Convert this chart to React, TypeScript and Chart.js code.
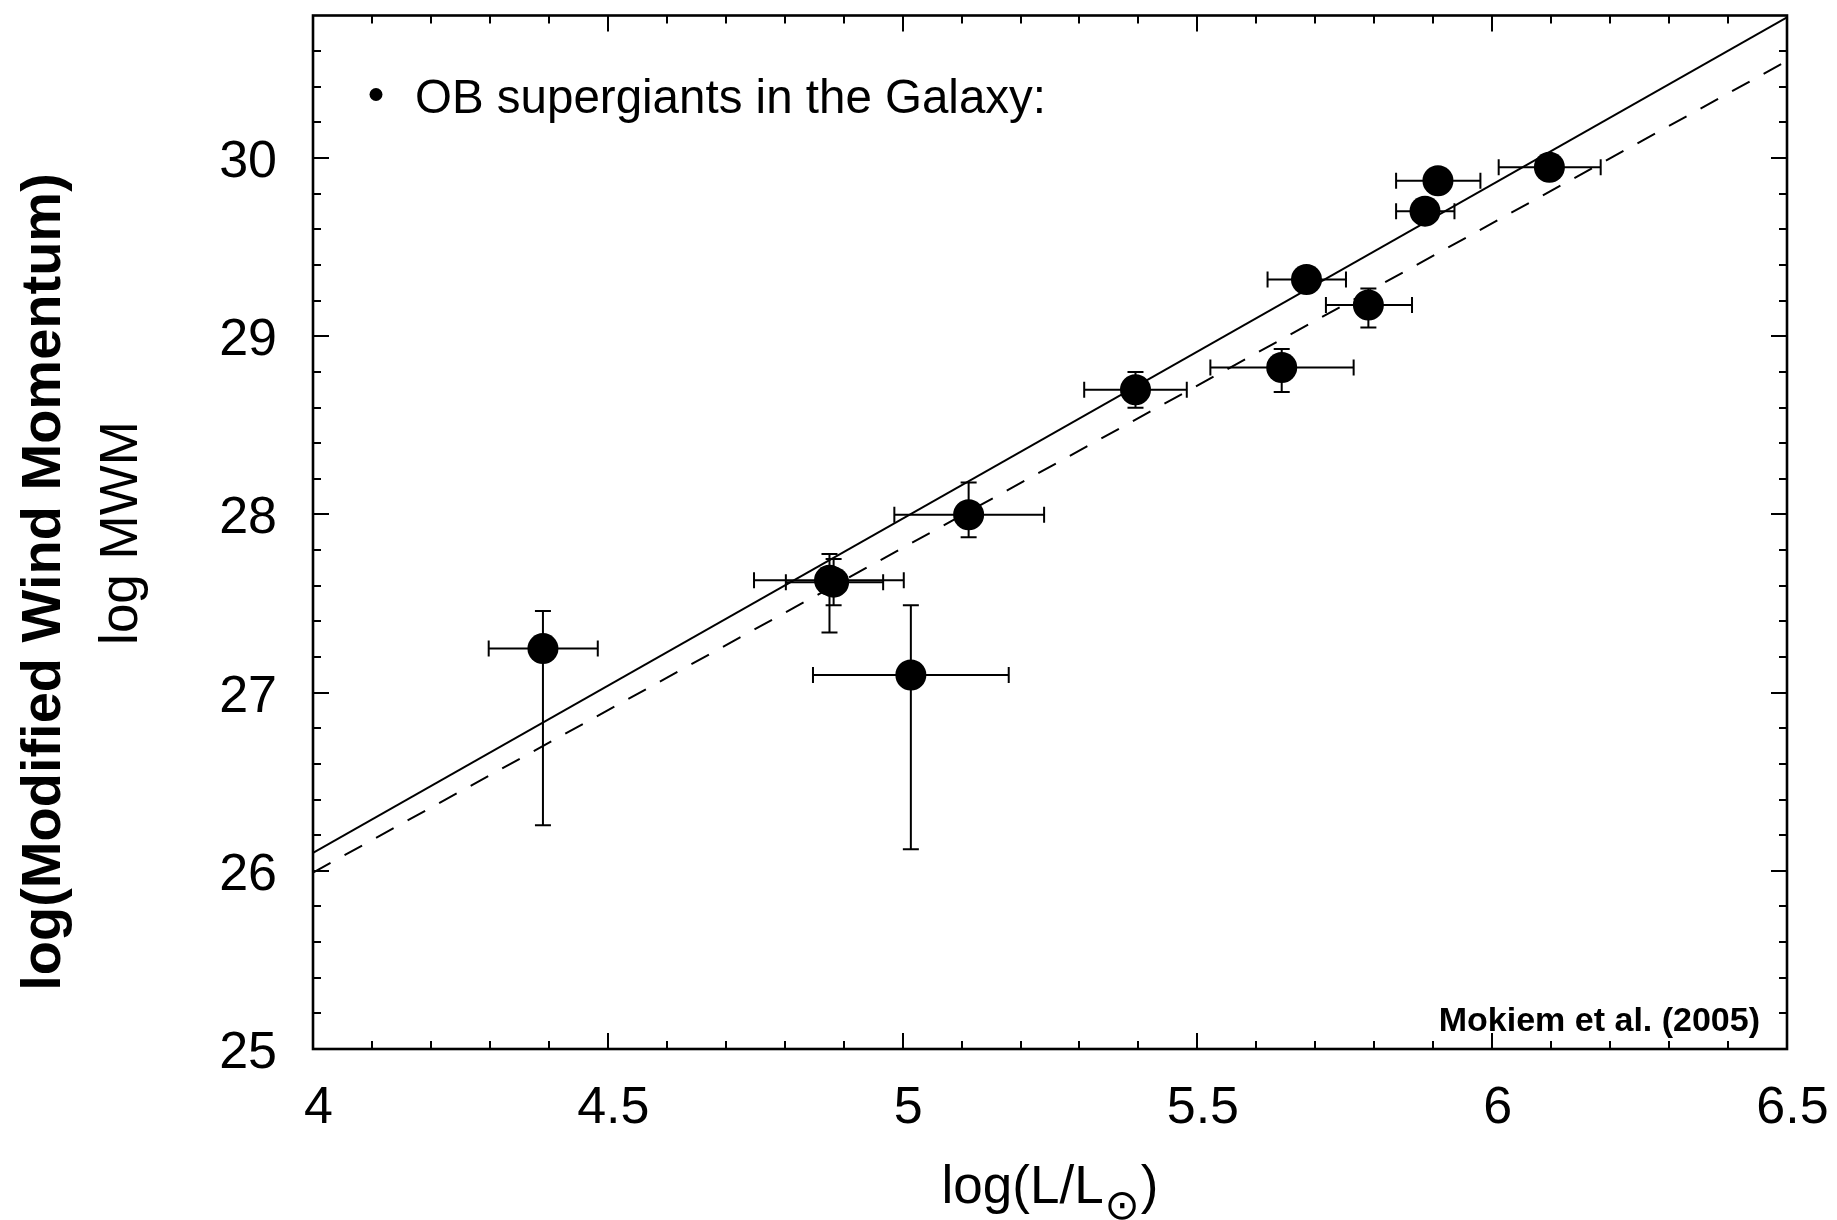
import React, { useEffect, useRef } from 'react';
import { Chart, registerables } from 'chart.js';

Chart.register(...registerables);

// ---- Data ----
const starLogL = [4.39, 4.876, 4.883, 5.014, 5.112, 5.395, 5.643, 5.685, 5.79, 5.886, 5.908, 6.097];
const starLogMWM = [27.247, 27.63, 27.62, 27.099, 27.998, 28.7, 28.825, 29.318, 29.175, 29.702, 29.873, 29.948];
const starLogLLow = [4.298, 4.748, 4.802, 4.848, 4.986, 5.308, 5.522, 5.619, 5.718, 5.837, 5.837, 6.011];
const starLogLHigh = [4.483, 5.002, 4.967, 5.18, 5.24, 5.482, 5.765, 5.752, 5.864, 5.936, 5.98, 6.184];
const starLogMWMLow = [26.255, 27.337, 27.49, 26.121, 27.872, 28.598, 28.687, 29.27, 29.049, 29.66, 29.83, 29.9];
const starLogMWMHigh = [27.458, 27.778, 27.75, 27.49, 28.179, 28.8, 28.929, 29.37, 29.268, 29.74, 29.92, 29.99];

const fitSolidLogL = [4, 6.5];
const fitSolidLogMWM = [26.1, 30.79];
const fitDashedLogL = [4, 6.5];
const fitDashedLogMWM = [25.99, 30.545];

const xTickValues = [4, 4.5, 5, 5.5, 6, 6.5];
const xTickLabels = ['4', '4.5', '5', '5.5', '6', '6.5'];
const yTickValues = [25, 26, 27, 28, 29, 30];
const yTickLabels = ['25', '26', '27', '28', '29', '30'];
const xMinorStep = 0.1;
const yMinorStep = 0.2;

const xMin = 4;
const xMax = 6.5;
const yMin = 25;
const yMax = 30.8;

const legendText = 'OB supergiants in the Galaxy:';
const sourceText = 'Mokiem et al. (2005)';
const yTitleBold = 'log(Modified Wind Momentum)';
const yTitleSub = 'log MWM';
const xTitleMain = 'log(L/L';
const xTitleSub = '\u2299';
const xTitleEnd = ')';

const FONT = '"Liberation Sans", Arial, Helvetica, sans-serif';

const errorBarPlugin = {
  id: 'errorBars',
  beforeDatasetsDraw(chart: any) {
    const { ctx, scales } = chart;
    const x = scales.x;
    const y = scales.y;
    const cap = 8;
    ctx.save();
    ctx.strokeStyle = '#000';
    ctx.lineWidth = 2;
    for (let i = 0; i < starLogL.length; i++) {
      const px = x.getPixelForValue(starLogL[i]);
      const py = y.getPixelForValue(starLogMWM[i]);
      const xl = x.getPixelForValue(starLogLLow[i]);
      const xh = x.getPixelForValue(starLogLHigh[i]);
      const yl = y.getPixelForValue(starLogMWMLow[i]);
      const yh = y.getPixelForValue(starLogMWMHigh[i]);
      ctx.beginPath();
      ctx.moveTo(xl, py);
      ctx.lineTo(xh, py);
      ctx.moveTo(xl, py - cap);
      ctx.lineTo(xl, py + cap);
      ctx.moveTo(xh, py - cap);
      ctx.lineTo(xh, py + cap);
      ctx.moveTo(px, yl);
      ctx.lineTo(px, yh);
      ctx.moveTo(px - cap, yl);
      ctx.lineTo(px + cap, yl);
      ctx.moveTo(px - cap, yh);
      ctx.lineTo(px + cap, yh);
      ctx.stroke();
    }
    ctx.restore();
  },
};

const framePlugin = {
  id: 'frameTicks',
  afterDraw(chart: any) {
    const { ctx, chartArea, scales } = chart;
    const x = scales.x;
    const y = scales.y;
    const { left, right, top, bottom } = chartArea;
    ctx.save();
    ctx.strokeStyle = '#000';
    ctx.lineWidth = 2;
    const major = 16;
    const minor = 8;
    const nx = Math.round((xMax - xMin) / xMinorStep);
    ctx.beginPath();
    for (let k = 1; k < nx; k++) {
      const v = xMin + k * xMinorStep;
      const isMajor = xTickValues.some((t) => Math.abs(t - v) < 1e-6);
      const len = isMajor ? major : minor;
      const px = Math.round(x.getPixelForValue(v));
      ctx.moveTo(px, bottom);
      ctx.lineTo(px, bottom - len);
      ctx.moveTo(px, top);
      ctx.lineTo(px, top + len);
    }
    const ny = Math.round((yMax - yMin) / yMinorStep);
    for (let k = 1; k <= ny; k++) {
      const v = yMin + k * yMinorStep;
      if (v >= yMax - 1e-6) continue;
      const isMajor = yTickValues.some((t) => Math.abs(t - v) < 1e-6);
      const len = isMajor ? major : minor;
      const py = Math.round(y.getPixelForValue(v));
      ctx.moveTo(left, py);
      ctx.lineTo(left + len, py);
      ctx.moveTo(right, py);
      ctx.lineTo(right - len, py);
    }
    ctx.stroke();
    ctx.lineWidth = 2.6;
    ctx.strokeRect(left, top, right - left, bottom - top);

    ctx.fillStyle = '#000';
    ctx.textBaseline = 'alphabetic';

    // tick labels
    ctx.font = `52px ${FONT}`;
    ctx.textAlign = 'center';
    xTickValues.forEach((v, i) => {
      ctx.fillText(xTickLabels[i], x.getPixelForValue(v) + 5.5, bottom + 74);
    });
    ctx.textAlign = 'right';
    yTickValues.forEach((v, i) => {
      ctx.fillText(yTickLabels[i], left - 36, y.getPixelForValue(v) + 19);
    });

    // annotation texts
    ctx.textAlign = 'left';
    ctx.beginPath();
    ctx.arc(left + 63, top + 79, 6.5, 0, Math.PI * 2);
    ctx.fill();
    ctx.font = `47.5px ${FONT}`;
    ctx.fillText(legendText, left + 102, top + 97);

    ctx.font = `bold 34px ${FONT}`;
    ctx.textAlign = 'right';
    ctx.fillText(sourceText, right - 27, bottom - 18);

    // y titles
    ctx.textAlign = 'center';
    ctx.save();
    ctx.translate(60, 582);
    ctx.rotate(-Math.PI / 2);
    ctx.font = `bold 56px ${FONT}`;
    ctx.fillText(yTitleBold, 0, 0);
    ctx.restore();
    ctx.save();
    ctx.translate(137, 533);
    ctx.rotate(-Math.PI / 2);
    ctx.font = `53px ${FONT}`;
    ctx.fillText(yTitleSub, 0, 0);
    ctx.restore();

    // x title with subscript sun symbol
    ctx.textAlign = 'left';
    const mainFont = `53px ${FONT}`;
    const subFont = `42px "DejaVu Sans", ${FONT}`;
    ctx.font = mainFont;
    const w1 = ctx.measureText(xTitleMain).width;
    const w3 = ctx.measureText(xTitleEnd).width;
    ctx.font = subFont;
    const w2 = ctx.measureText(xTitleSub).width;
    const total = w1 + w2 + w3 + 2;
    const cx = (left + right) / 2;
    const baseY = 1203;
    let sx = cx - total / 2;
    ctx.font = mainFont;
    ctx.fillText(xTitleMain, sx, baseY);
    sx += w1 + 1;
    ctx.font = subFont;
    ctx.fillText(xTitleSub, sx, baseY + 16);
    sx += w2 + 1;
    ctx.font = mainFont;
    ctx.fillText(xTitleEnd, sx, baseY);
    ctx.restore();
  },
};

export default function App() {
  const canvasRef = useRef<HTMLCanvasElement | null>(null);

  useEffect(() => {
    const canvas = canvasRef.current;
    if (!canvas) return;
    const chart = new Chart(canvas, {
      type: 'scatter',
      data: {
        datasets: [
          {
            type: 'scatter',
            label: 'OB supergiants',
            data: starLogL.map((v, i) => ({ x: v, y: starLogMWM[i] })),
            pointRadius: 15.5,
            pointHoverRadius: 15.5,
            pointBackgroundColor: '#000',
            pointBorderWidth: 0,
            borderColor: '#000',
            backgroundColor: '#000',
          },
          {
            type: 'line',
            label: 'fit',
            data: fitSolidLogL.map((v, i) => ({ x: v, y: fitSolidLogMWM[i] })),
            borderColor: '#000',
            borderWidth: 2,
            pointRadius: 0,
            fill: false,
          },
          {
            type: 'line',
            label: 'theory',
            data: fitDashedLogL.map((v, i) => ({ x: v, y: fitDashedLogMWM[i] })),
            borderColor: '#000',
            borderWidth: 2,
            borderDash: [20, 16],
            pointRadius: 0,
            fill: false,
          },
        ],
      },
      options: {
        animation: false,
        responsive: false,
        devicePixelRatio: 1,
        events: [],
        layout: { padding: { left: 0, right: 50, top: 11, bottom: 0 } },
        plugins: {
          legend: { display: false },
          tooltip: { enabled: false },
          title: { display: false },
        },
        scales: {
          x: {
            type: 'linear',
            min: xMin,
            max: xMax,
            grid: { display: false, drawTicks: false },
            border: { display: false },
            ticks: { display: false },
            afterBuildTicks: (scale: any) => {
              scale.ticks = xTickValues.map((value) => ({ value }));
            },
            afterFit: (scale: any) => {
              scale.height = 171;
              scale.paddingLeft = 0;
              scale.paddingRight = 0;
              scale.paddingTop = 0;
              scale.paddingBottom = 0;
            },
          },
          y: {
            type: 'linear',
            min: yMin,
            max: yMax,
            grid: { display: false, drawTicks: false },
            border: { display: false },
            ticks: { display: false },
            afterBuildTicks: (scale: any) => {
              scale.ticks = yTickValues.map((value) => ({ value }));
            },
            afterFit: (scale: any) => {
              scale.width = 313;
              scale.paddingLeft = 0;
              scale.paddingRight = 0;
              scale.paddingTop = 0;
              scale.paddingBottom = 0;
            },
          },
        },
      },
      plugins: [errorBarPlugin, framePlugin],
    });
    return () => chart.destroy();
  }, []);

  return (
    <div style={{ position: 'absolute', left: 0, top: 0, width: 1837, height: 1220, background: '#fff' }}>
      <canvas ref={canvasRef} width={1837} height={1220} style={{ display: 'block' }} />
    </div>
  );
}
